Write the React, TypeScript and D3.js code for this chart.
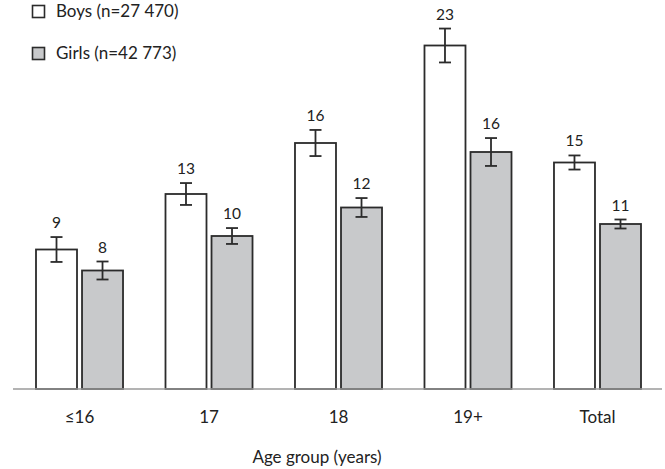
import React from 'react';
import * as d3 from 'd3';

const categories = ['≤16', '17', '18', '19+', 'Total'];
const boys = [9.3, 13.0, 16.4, 22.9, 15.1];
const girls = [7.9, 10.2, 12.1, 15.8, 11.0];
const boysErr = [0.83, 0.73, 0.87, 1.13, 0.47];
const girlsErr = [0.6, 0.53, 0.63, 0.93, 0.3];
const boysLabels = ['9', '13', '16', '23', '15'];
const girlsLabels = ['8', '10', '12', '16', '11'];
const legend = ['Boys (n=27 470)', 'Girls (n=42 773)'];

const W = 665;
const H = 469;
const FONT = 'Lato, "Open Sans", sans-serif';

export default function App() {
  const x = d3.scaleBand<string>().domain(categories).range([36, 641]).paddingInner(0.328).paddingOuter(0);
  const xs = d3.scaleBand<string>().domain(['boys', 'girls']).range([0, x.bandwidth()]).paddingInner(0.109);
  const y = d3.scaleLinear().domain([0, 25]).range([389, 14]);

  const series = [
    { key: 'boys', vals: boys, err: boysErr, labels: boysLabels, fill: '#ffffff' },
    { key: 'girls', vals: girls, err: girlsErr, labels: girlsLabels, fill: '#c8c9cb' },
  ];

  return (
    <div style={{ position: 'absolute', left: 0, top: 0 }}>
      <svg width={W} height={H} style={{ display: 'block', background: '#fff' }} fontFamily={FONT}>
        {series.map(s => (
          <g key={s.key}>
            {categories.map((c, i) => {
              const bx = (x(c) ?? 0) + (xs(s.key) ?? 0);
              const bw = xs.bandwidth();
              const cx = bx + bw / 2;
              const top = y(s.vals[i] + s.err[i]);
              const bot = y(s.vals[i] - s.err[i]);
              return (
                <g key={c}>
                  <rect x={bx} y={y(s.vals[i])} width={bw} height={y(0) - y(s.vals[i])}
                    fill={s.fill} stroke="#2b2b2b" strokeWidth={1.8} />
                  <g stroke="#2b2b2b" strokeWidth={1.8}>
                    <line x1={cx} x2={cx} y1={top} y2={bot} />
                    <line x1={cx - 6} x2={cx + 6} y1={top} y2={top} />
                    <line x1={cx - 6} x2={cx + 6} y1={bot} y2={bot} />
                  </g>
                  <text x={cx} y={top - 9} textAnchor="middle" fontSize={15.5} fill="#222">{s.labels[i]}</text>
                </g>
              );
            })}
          </g>
        ))}
        <line x1={13} x2={662} y1={y(0)} y2={y(0)} stroke="#9a9a9a" strokeWidth={1.6} />
        {categories.map(c => (
          <text key={c} x={(x(c) ?? 0) + x.bandwidth() / 2} y={423} textAnchor="middle" fontSize={17} fill="#222">{c}</text>
        ))}
        <text x={317} y={463} textAnchor="middle" fontSize={17} fill="#222">Age group (years)</text>
        {legend.map((t, i) => (
          <g key={t} transform={`translate(32, ${5 + i * 42})`}>
            <rect x={0.5} y={0.5} width={12} height={12} fill={series[i].fill} stroke="#2b2b2b" strokeWidth={1.6} />
            <text x={24} y={12} fontSize={17} fill="#222">{t}</text>
          </g>
        ))}
      </svg>
    </div>
  );
}
